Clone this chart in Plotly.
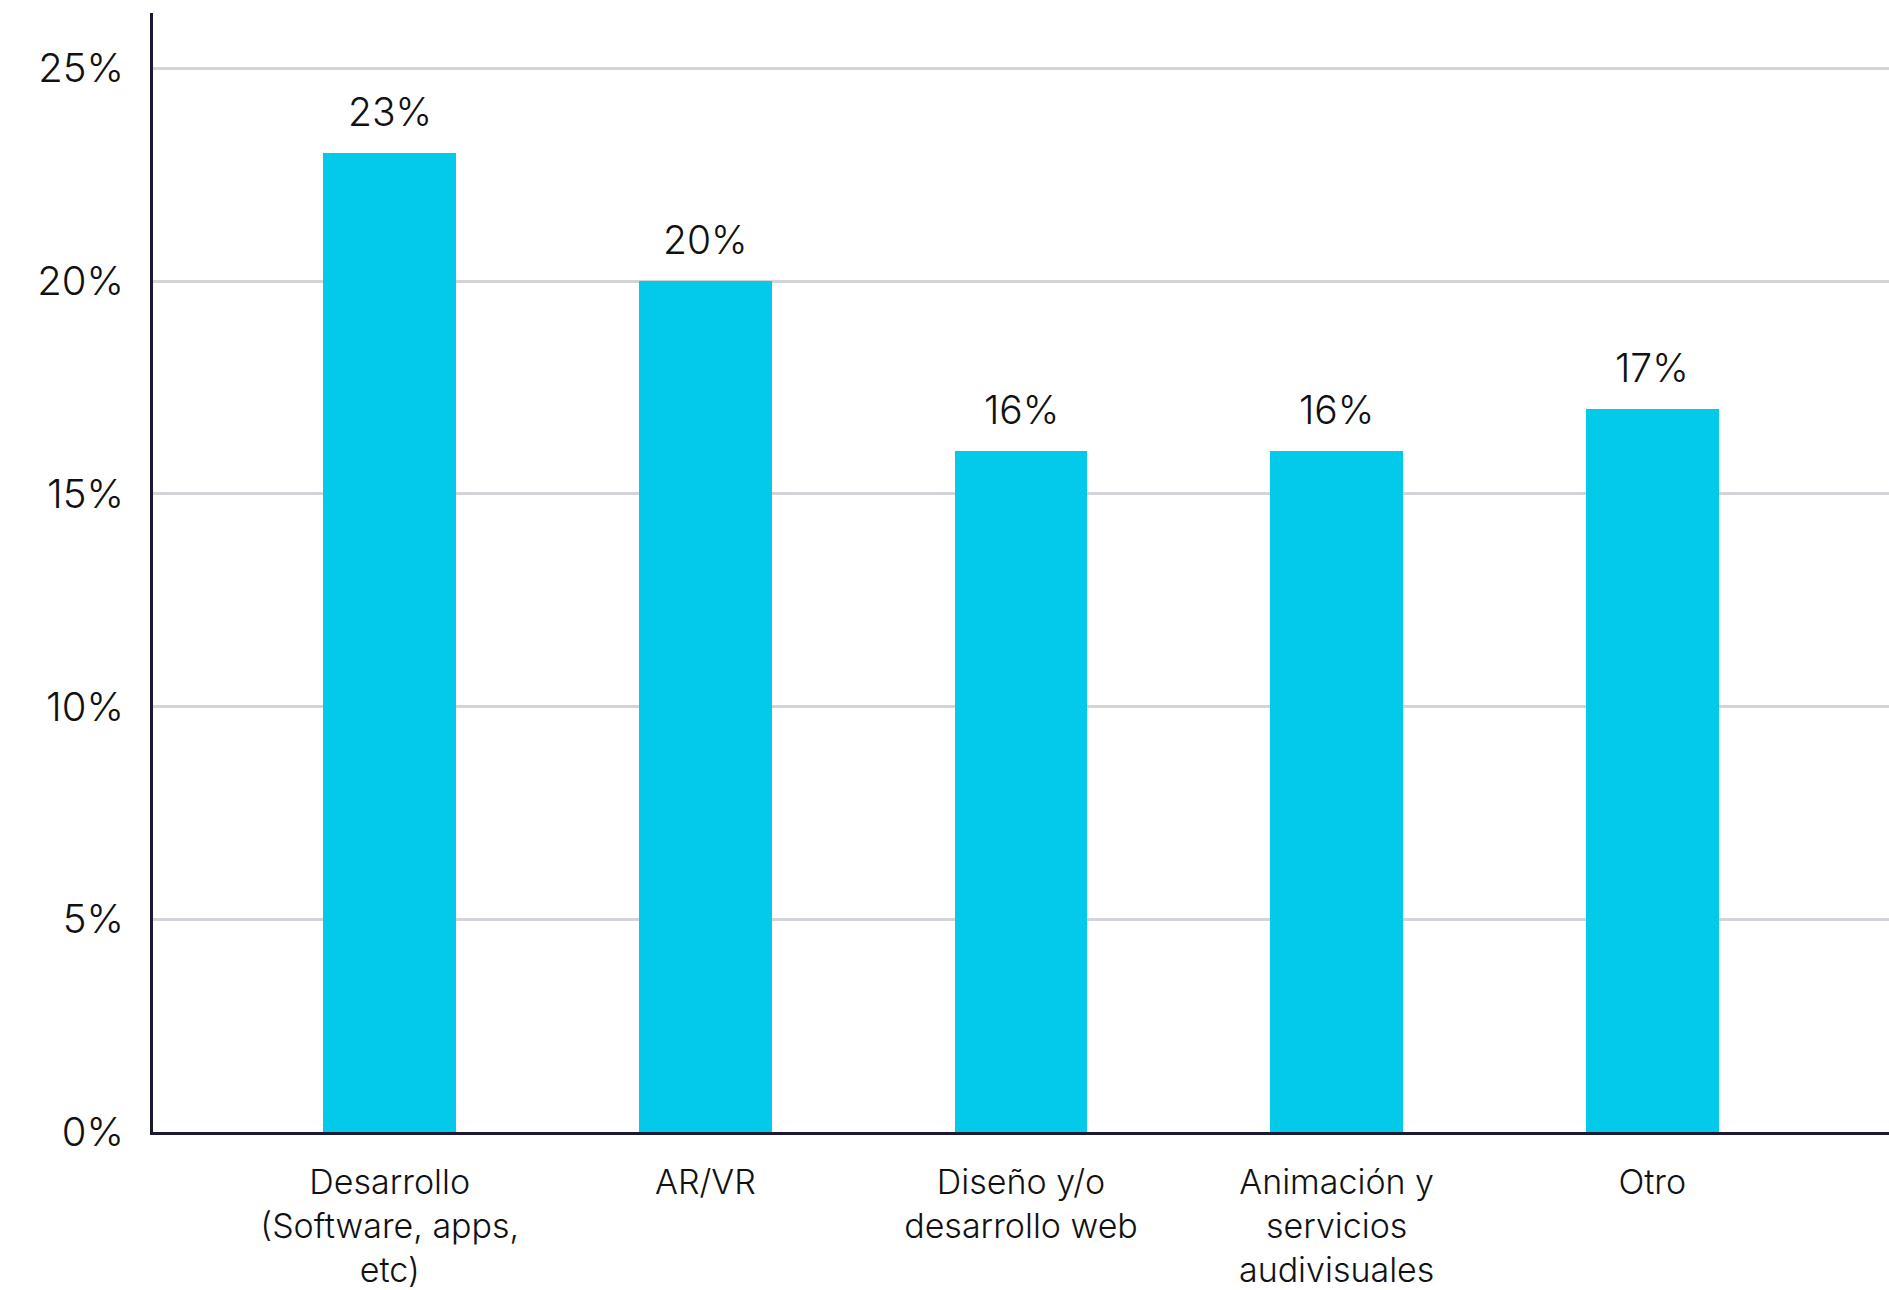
import plotly.graph_objects as go

# Categories and their shares (%)
categories = [
    "Desarrollo<br>(Software, apps,<br>etc)",
    "AR/VR",
    "Diseño y/o<br>desarrollo web",
    "Animación y<br>servicios<br>audivisuales",
    "Otro",
]
shares = [23, 20, 16, 16, 17]
y_ticks = [0, 5, 10, 15, 20, 25]

BAR_COLOR = "#04CAEA"
AXIS_COLOR = "#1B1A35"
GRID_COLOR = "#D3D3D9"
FONT = "Inter"
TEXT_COLOR = "#111111"

fig = go.Figure(
    go.Bar(
        x=list(range(len(categories))),
        y=shares,
        marker=dict(color=BAR_COLOR, line=dict(width=0)),
        width=0.42,
        hoverinfo="skip",
    )
)

# Value labels above each bar
for i, v in enumerate(shares):
    fig.add_annotation(
        x=i, y=v, text=f"{v}%", showarrow=False,
        yanchor="bottom", yshift=16,
        font=dict(family=FONT, size=39, color=TEXT_COLOR, weight=300),
    )

fig.update_layout(
    width=1889, height=1290,
    margin=dict(l=153, r=0, t=13, b=158),
    paper_bgcolor="white", plot_bgcolor="white",
    showlegend=False,
    bargap=0,
    xaxis=dict(
        range=[-0.75, 4.75],
        tickmode="array",
        tickvals=list(range(len(categories))),
        ticktext=categories,
        tickfont=dict(family=FONT, size=34, color=TEXT_COLOR, weight=300),
        ticks="", ticklabelstandoff=18,
        showgrid=False, zeroline=False,
        showline=True, linecolor=AXIS_COLOR, linewidth=3,
    ),
    yaxis=dict(
        range=[0, 26.3],
        tickmode="array",
        tickvals=y_ticks,
        ticktext=[f"{t}%" for t in y_ticks],
        tickfont=dict(family=FONT, size=40, color=TEXT_COLOR, weight=300),
        ticks="", ticklabelstandoff=18,
        showgrid=True, gridcolor=GRID_COLOR, gridwidth=3,
        zeroline=False,
        showline=True, linecolor=AXIS_COLOR, linewidth=3,
    ),
)

fig.write_html("out.html")
